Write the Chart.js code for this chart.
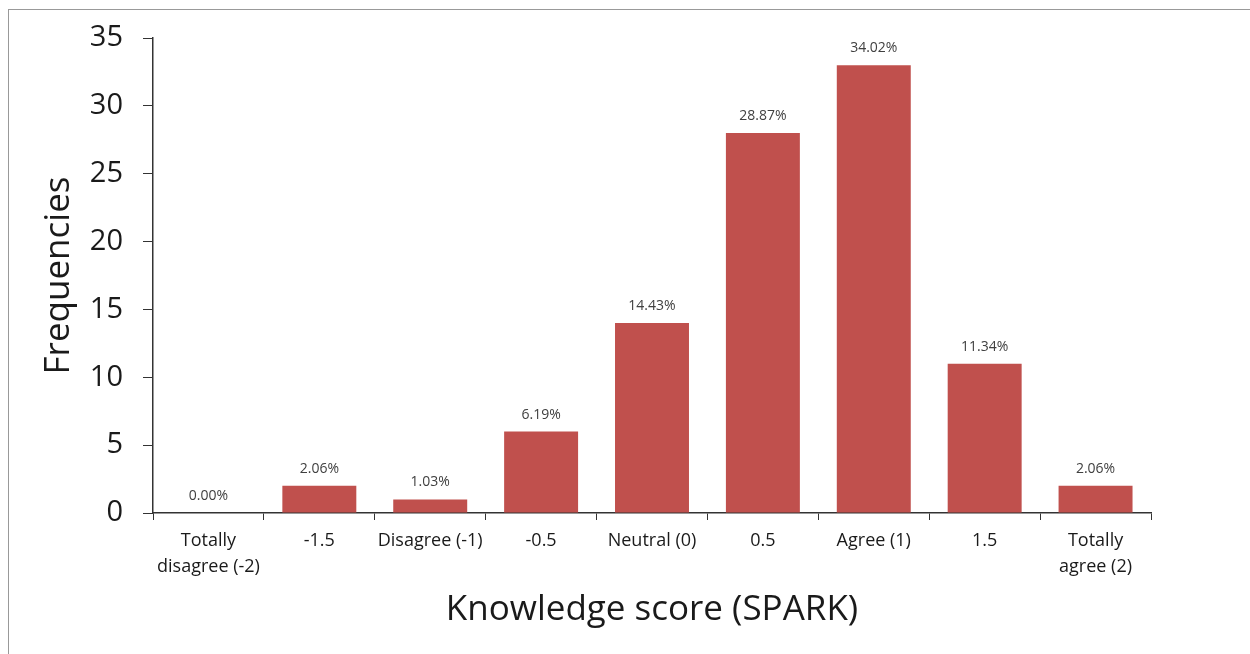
<!DOCTYPE html>
<html lang="en">
<head>
    <meta charset="UTF-8">
    <title>Knowledge score (SPARK)</title>
    <script src="https://cdn.jsdelivr.net/npm/chart.js"></script>
    <style>
        body { margin: 0; overflow: hidden; background: #fff; }
        #wrap { position: relative; width: 1250px; height: 654px; }
        #frame { position: absolute; left: 8px; top: 9px; width: 1300px; height: 700px; border: 1px solid #999; }
        #myChart { position: absolute; left: 0; top: 0; }
    </style>
</head>
<body>

    <div id="wrap">
        <div id="frame"></div>
        <canvas id="myChart" width="1250" height="654"></canvas>
    </div>

    <script>
        // Data
        const categories = [
            ['Totally', 'disagree (-2)'], '-1.5', 'Disagree (-1)', '-0.5', 'Neutral (0)',
            '0.5', 'Agree (1)', '1.5', ['Totally', 'agree (2)']
        ];
        const frequencies = [0, 2, 1, 6, 14, 28, 33, 11, 2];
        const percentLabels = ['0.00%', '2.06%', '1.03%', '6.19%', '14.43%', '28.87%', '34.02%', '11.34%', '2.06%'];

        const fontFamily = "'Open Sans', sans-serif";

        // percent labels above the bars
        const barLabels = {
            id: 'barLabels',
            afterDatasetsDraw(chart) {
                const ctx = chart.ctx;
                const meta = chart.getDatasetMeta(0);
                ctx.save();
                ctx.font = '14px ' + fontFamily;
                ctx.fillStyle = '#404040';
                ctx.textAlign = 'center';
                ctx.textBaseline = 'middle';
                meta.data.forEach((bar, i) => {
                    ctx.fillText(percentLabels[i], bar.x, bar.y - 17);
                });
                ctx.restore();
            }
        };

        const config = {
            type: 'bar',
            data: {
                labels: categories,
                datasets: [{
                    data: frequencies,
                    backgroundColor: '#C0504D',
                    categoryPercentage: 1.0,
                    barPercentage: 0.667
                }]
            },
            options: {
                responsive: false,
                animation: false,
                layout: { padding: { left: 0, top: 38, right: 99, bottom: 0 } },
                plugins: {
                    legend: { display: false },
                    tooltip: { enabled: false }
                },
                scales: {
                    x: {
                        grid: { offset: true, drawOnChartArea: false, tickLength: 7, color: '#333' },
                        border: { color: '#333', width: 1.5 },
                        ticks: {
                            color: '#1a1a1a',
                            padding: 8,
                            maxRotation: 0,
                            autoSkip: false,
                            font: { family: fontFamily, size: 18, lineHeight: 1.45 }
                        },
                        title: {
                            display: true,
                            text: 'Knowledge score (SPARK)',
                            color: '#1a1a1a',
                            padding: { top: 0, bottom: 23 },
                            font: { family: fontFamily, size: 35 }
                        },
                        afterFit: scale => { scale.height = 141; }
                    },
                    y: {
                        min: 0,
                        max: 35,
                        ticks: {
                            stepSize: 5,
                            color: '#1a1a1a',
                            padding: 20,
                            font: { family: fontFamily, size: 29 }
                        },
                        grid: { drawOnChartArea: false, tickLength: 10, color: '#333' },
                        border: { color: '#333', width: 1.5 },
                        title: {
                            display: true,
                            text: 'Frequencies',
                            color: '#1a1a1a',
                            padding: { top: 38, bottom: 0 },
                            font: { family: fontFamily, size: 35 }
                        },
                        afterFit: scale => { scale.width = 153; }
                    }
                }
            },
            plugins: [barLabels]
        };

        const myChart = new Chart(document.getElementById('myChart'), config);
    </script>

</body>
</html>
